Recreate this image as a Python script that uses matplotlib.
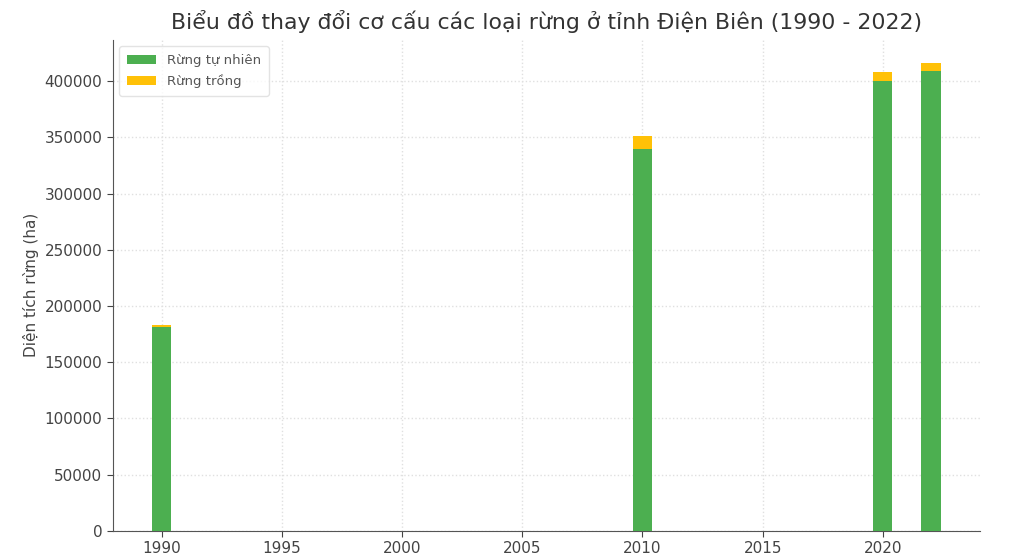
import numpy as np
import matplotlib
matplotlib.use('Agg')
import matplotlib.pyplot as plt

plt.rcParams['font.family'] = ['DejaVu Sans']

years = [1990, 2010, 2020, 2022]
natural = [181500, 340000, 400000, 409000]
planted = [1500, 11000, 8000, 7000]

fig = plt.figure(figsize=(10.24, 5.6), dpi=100)
ax = fig.add_axes([0.110, 0.052, 0.847, 0.877])

ax.bar(years, natural, width=0.8, color='#4CAF50', label='Rừng tự nhiên', zorder=3)
ax.bar(years, planted, width=0.8, bottom=natural, color='#FFC107', label='Rừng trồng', zorder=3)

ax.set_title('Biểu đồ thay đổi cơ cấu các loại rừng ở tỉnh Điện Biên (1990 - 2022)',
             fontsize=15.8, color='#333333', pad=8)
ax.set_ylabel('Diện tích rừng (ha)', fontsize=11, color='#444444')
ax.set_xlabel('Năm', fontsize=11, color='#444444', labelpad=8)

ax.set_xticks([1990, 1995, 2000, 2005, 2010, 2015, 2020])
ax.set_yticks(np.arange(0, 400001, 50000))
ax.tick_params(labelsize=11, colors='#444444', length=4)
ax.grid(True, color='#e0e0e0', linestyle=':', linewidth=1.0, zorder=0)

for s in ['top', 'right']:
    ax.spines[s].set_visible(False)
for s in ['left', 'bottom']:
    ax.spines[s].set_color('#555555')

leg = ax.legend(loc='upper left', fontsize=9.5, frameon=True, edgecolor='#dddddd',
                handlelength=2.2, borderpad=0.6)
for t in leg.get_texts():
    t.set_color('#555555')

fig.savefig('out.png', dpi=100)
